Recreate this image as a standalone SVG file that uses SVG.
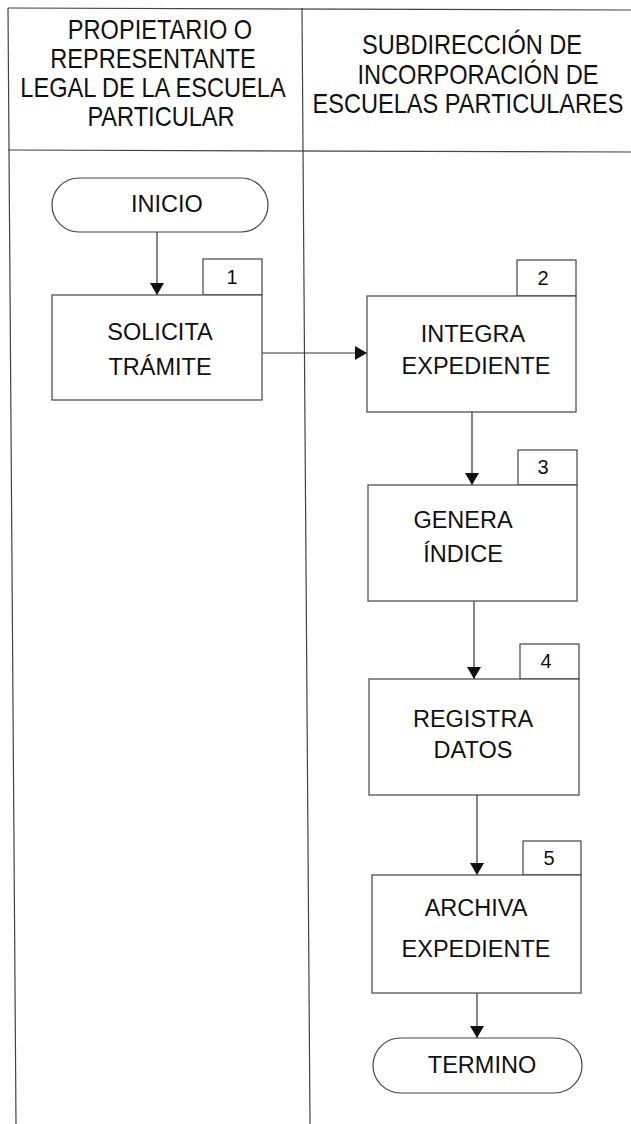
<svg xmlns="http://www.w3.org/2000/svg" width="631" height="1124" viewBox="0 0 631 1124">
<defs>
<marker id="ah" viewBox="0 0 12 14" refX="12" refY="7" markerWidth="12" markerHeight="14" markerUnits="userSpaceOnUse" orient="auto">
<path d="M0,0 L12,7 L0,14 Z" fill="#111"/>
</marker>
<style>
.ln{stroke:#444;stroke-width:1.2;fill:none}
.bx{stroke:#444;stroke-width:1.2;fill:#fff}
.hd{font-family:"Liberation Sans",Arial,sans-serif;font-size:23.6px;fill:#111;text-anchor:middle}
.tx{font-family:"Liberation Sans",Arial,sans-serif;font-size:23.5px;fill:#111;text-anchor:middle}
.nm{font-family:"Liberation Sans",Arial,sans-serif;font-size:20px;fill:#111;text-anchor:middle}
.cn{stroke:#333;stroke-width:1.2;fill:none;marker-end:url(#ah)}
</style>
</defs>
<rect width="631" height="1124" fill="#fff"/>
<g id="lanes">
<line class="ln" x1="8" y1="8" x2="631" y2="10"/>
<line class="ln" x1="8" y1="150" x2="631" y2="152"/>
<line class="ln" x1="8" y1="8" x2="16" y2="1124"/>
<line class="ln" x1="302" y1="8" x2="310" y2="1124"/>
</g>
<g id="header-left">
<text class="hd" transform="translate(160,39) scale(1,1.18)">PROPIETARIO O</text>
<text class="hd" transform="translate(153,68) scale(1,1.18)">REPRESENTANTE</text>
<text class="hd" transform="translate(153,97) scale(1,1.18)">LEGAL DE LA ESCUELA</text>
<text class="hd" transform="translate(161,126) scale(1,1.18)">PARTICULAR</text>
</g>
<g id="header-right">
<text class="hd" transform="translate(472,54) scale(1,1.18)">SUBDIRECCIÓN DE</text>
<text class="hd" transform="translate(478,84) scale(1,1.18)">INCORPORACIÓN DE</text>
<text class="hd" transform="translate(468,113) scale(1,1.18)">ESCUELAS PARTICULARES</text>
</g>
<g id="connectors">
<line class="cn" x1="157" y1="232" x2="157" y2="295"/>
<line class="cn" x1="262" y1="353" x2="367" y2="353"/>
<line class="cn" x1="472" y1="412" x2="472" y2="485"/>
<line class="cn" x1="474" y1="601" x2="474" y2="679"/>
<line class="cn" x1="477" y1="795" x2="477" y2="875"/>
<line class="cn" x1="477" y1="993" x2="477" y2="1038"/>
</g>
<g id="inicio">
<rect class="bx" x="52" y="178" width="216" height="54" rx="27" ry="27"/>
<text class="tx" x="167" y="212">INICIO</text>
</g>
<g id="n1">
<rect class="bx" x="203" y="259" width="59" height="36"/>
<text class="nm" x="232" y="284">1</text>
<rect class="bx" x="52" y="295" width="210" height="105"/>
<text class="tx" x="160" y="340">SOLICITA</text>
<text class="tx" x="160" y="375">TRÁMITE</text>
</g>
<g id="n2">
<rect class="bx" x="517" y="260" width="59" height="36"/>
<text class="nm" x="543" y="285">2</text>
<rect class="bx" x="367" y="296" width="209" height="116"/>
<text class="tx" x="473" y="342">INTEGRA</text>
<text class="tx" x="476" y="374">EXPEDIENTE</text>
</g>
<g id="n3">
<rect class="bx" x="518" y="450" width="59" height="35"/>
<text class="nm" x="543" y="474">3</text>
<rect class="bx" x="368" y="485" width="209" height="116"/>
<text class="tx" x="463" y="528">GENERA</text>
<text class="tx" x="463" y="562">ÍNDICE</text>
</g>
<g id="n4">
<rect class="bx" x="520" y="644" width="59" height="35"/>
<text class="nm" x="546" y="668">4</text>
<rect class="bx" x="369" y="679" width="210" height="116"/>
<text class="tx" x="473" y="727">REGISTRA</text>
<text class="tx" x="473" y="758">DATOS</text>
</g>
<g id="n5">
<rect class="bx" x="523" y="841" width="58" height="34"/>
<text class="nm" x="549" y="865">5</text>
<rect class="bx" x="372" y="875" width="209" height="118"/>
<text class="tx" x="476" y="916">ARCHIVA</text>
<text class="tx" x="476" y="957">EXPEDIENTE</text>
</g>
<g id="termino">
<rect class="bx" x="373" y="1038" width="209" height="55" rx="27.5" ry="27.5"/>
<text class="tx" x="482" y="1073">TERMINO</text>
</g>
</svg>
